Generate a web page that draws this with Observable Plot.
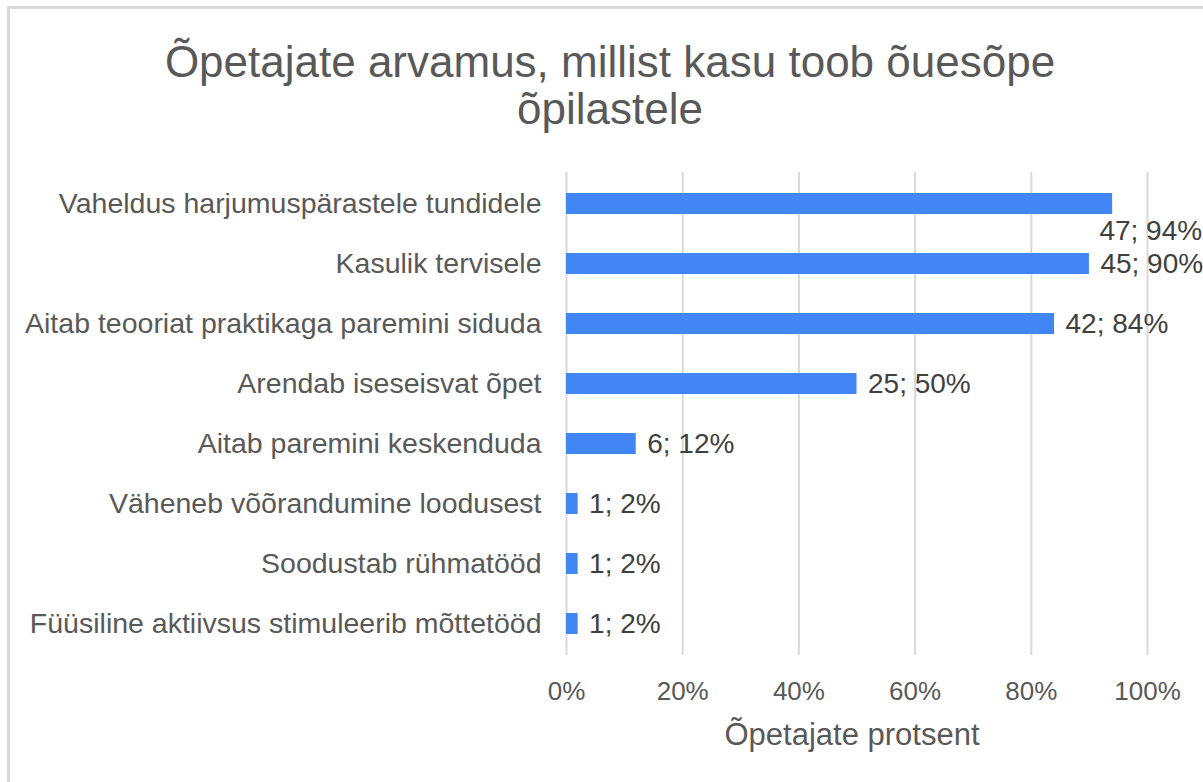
<!DOCTYPE html>
<html><head><meta charset="utf-8">
<script src="https://cdn.jsdelivr.net/npm/d3@7"></script>
<script src="https://cdn.jsdelivr.net/npm/@observablehq/plot@0.6"></script>
<style>
body{margin:0;background:#fff;font-family:"Liberation Sans",Arial,sans-serif;}
#wrap{position:relative;width:1203px;height:782px;overflow:hidden;}
#border{position:absolute;left:7px;top:6px;width:1200px;height:800px;border-top:3px solid #d9d9d9;border-left:3px solid #d9d9d9;}
#title{position:absolute;top:38px;left:60px;width:1100px;text-align:center;font-size:44px;line-height:47px;color:#595959;}
#chart{position:absolute;left:0;top:0;}
</style></head>
<body><div id="wrap"><div id="border"></div><div id="title">Õpetajate arvamus, millist kasu toob õuesõpe<br>õpilastele</div><div id="chart"></div></div>
<script>
const categories = [
  "Vaheldus harjumuspärastele tundidele",
  "Kasulik tervisele",
  "Aitab teooriat praktikaga paremini siduda",
  "Arendab iseseisvat õpet",
  "Aitab paremini keskenduda",
  "Väheneb võõrandumine loodusest",
  "Soodustab rühmatööd",
  "Füüsiline aktiivsus stimuleerib mõttetööd"
];
const counts = [47, 45, 42, 25, 6, 1, 1, 1];
const percents = [94, 90, 84, 50, 12, 2, 2, 2];
const xTicks = [0, 20, 40, 60, 80, 100];

const data = categories.map((c, i) => ({cat: c, n: counts[i], p: percents[i], label: `${counts[i]}; ${percents[i]}%`}));
const inside = data.filter(d => d.p <= 92);
const overflow = data.filter(d => d.p > 92);

const chart = Plot.plot({
  width: 1203, height: 782,
  marginLeft: 566, marginRight: 56, marginTop: 172, marginBottom: 127,
  style: {fontFamily: '"Liberation Sans", Arial, sans-serif', background: "transparent", overflow: "visible"},
  x: {domain: [0, 100], ticks: xTicks, tickFormat: d => d + "%", label: null},
  y: {domain: categories, paddingInner: 0.654, paddingOuter: 0.305, label: null},
  marks: [
    Plot.ruleX(xTicks, {stroke: "#d9d9d9", strokeWidth: 2}),
    Plot.barX(data, {x: "p", y: "cat", fill: "#4285f4"}),
    Plot.text(inside, {x: "p", y: "cat", text: "label", textAnchor: "start", dx: 11, fontSize: 28, fill: "#404040"}),
    Plot.text(overflow, {x: 90, y: "cat", text: "label", textAnchor: "start", dx: 10, dy: 27, fontSize: 28, fill: "#404040"}),
    Plot.axisY({tickSize: 0, tickPadding: 25, fontSize: 28.5, color: "#595959", label: null}),
    Plot.axisX({ticks: xTicks, tickFormat: d => d + "%", tickSize: 0, tickPadding: 26, fontSize: 26, color: "#595959", label: null}),
    Plot.text(["Õpetajate protsent"], {frameAnchor: "bottom", dx: -5, dy: 89, fontSize: 31, fill: "#595959"})
  ]
});
document.getElementById("chart").appendChild(chart);
</script>
</body></html>
